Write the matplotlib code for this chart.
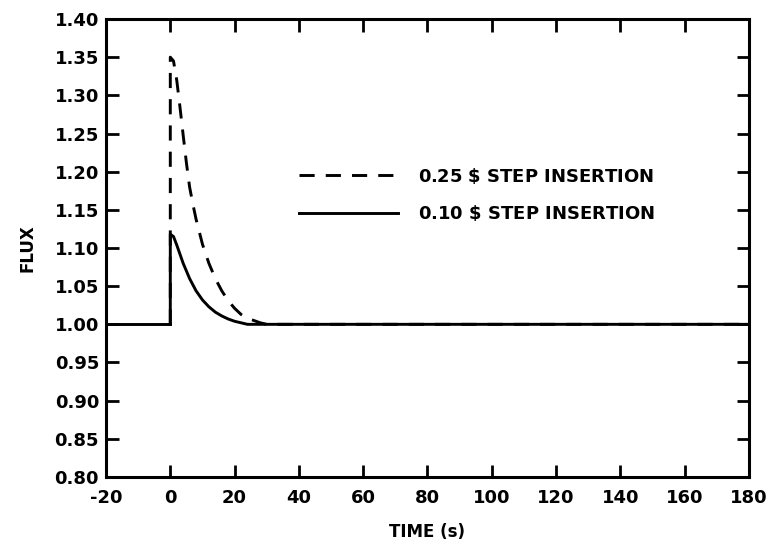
import matplotlib
matplotlib.use("Agg")
import matplotlib.pyplot as plt

# time axis (s) and flux readings picked off the figure
pre_time = [-20, 0]
pre_flux = [1.0, 1.0]

time_025 = [0, 0, 1, 2, 3, 4, 5, 6, 7, 8, 10, 12, 14, 16, 18, 20, 22, 24, 26, 28, 30, 180]
flux_025 = [1.0, 1.35, 1.345, 1.32, 1.285, 1.248, 1.212, 1.18, 1.158, 1.138, 1.105,
            1.08, 1.06, 1.044, 1.031, 1.021, 1.013, 1.008, 1.005, 1.002, 1.0, 1.0]

time_010 = [0, 0, 1, 2, 3, 4, 6, 8, 10, 12, 14, 16, 18, 20, 22, 24, 180]
flux_010 = [1.0, 1.118, 1.115, 1.104, 1.092, 1.08, 1.06, 1.044, 1.032, 1.023, 1.016,
            1.011, 1.007, 1.004, 1.002, 1.0, 1.0]

labels = ["0.25 $\\$$ STEP INSERTION", "0.10 $\\$$ STEP INSERTION"]
x_ticks = list(range(-20, 181, 20))
y_ticks = [0.80, 0.85, 0.90, 0.95, 1.00, 1.05, 1.10, 1.15, 1.20, 1.25, 1.30, 1.35, 1.40]

plt.rcParams['font.family'] = ['DejaVu Sans']
plt.rcParams['font.weight'] = 'bold'
plt.rcParams['axes.labelweight'] = 'bold'
plt.rcParams['mathtext.default'] = 'bf'

fig = plt.figure(figsize=(7.72, 5.45), dpi=100)
ax = fig.add_axes([0.1373, 0.1248, 0.8329, 0.8403])

lw = 2.1
ax.plot(pre_time, pre_flux, color='black', lw=lw)
ax.plot(time_025, flux_025, color='black', lw=lw, dashes=(5.2, 3.8), label=labels[0])
ax.plot(time_010, flux_010, color='black', lw=lw, label=labels[1])

ax.set_xlim(-20, 180)
ax.set_ylim(0.80, 1.40)
ax.set_xticks(x_ticks)
ax.set_yticks(y_ticks)
ax.set_xticklabels([str(t) for t in x_ticks])
ax.set_yticklabels([f"{v:.2f}" for v in y_ticks])

ax.tick_params(direction='in', top=True, right=True, length=9, width=2,
               labelsize=13)
ax.tick_params(axis='x', pad=9)
ax.tick_params(axis='y', pad=5)
for s in ax.spines.values():
    s.set_linewidth(2.2)

ax.set_xlabel("TIME (s)", fontsize=12, labelpad=11)
ax.set_ylabel("FLUX", fontsize=12, labelpad=13)

ax.legend(loc='upper left', bbox_to_anchor=(0.275, 0.715), frameon=False,
          prop={'size': 13, 'weight': 'bold'}, handlelength=5.5,
          handletextpad=1.1, labelspacing=0.95)

fig.savefig("out.png", dpi=100)
